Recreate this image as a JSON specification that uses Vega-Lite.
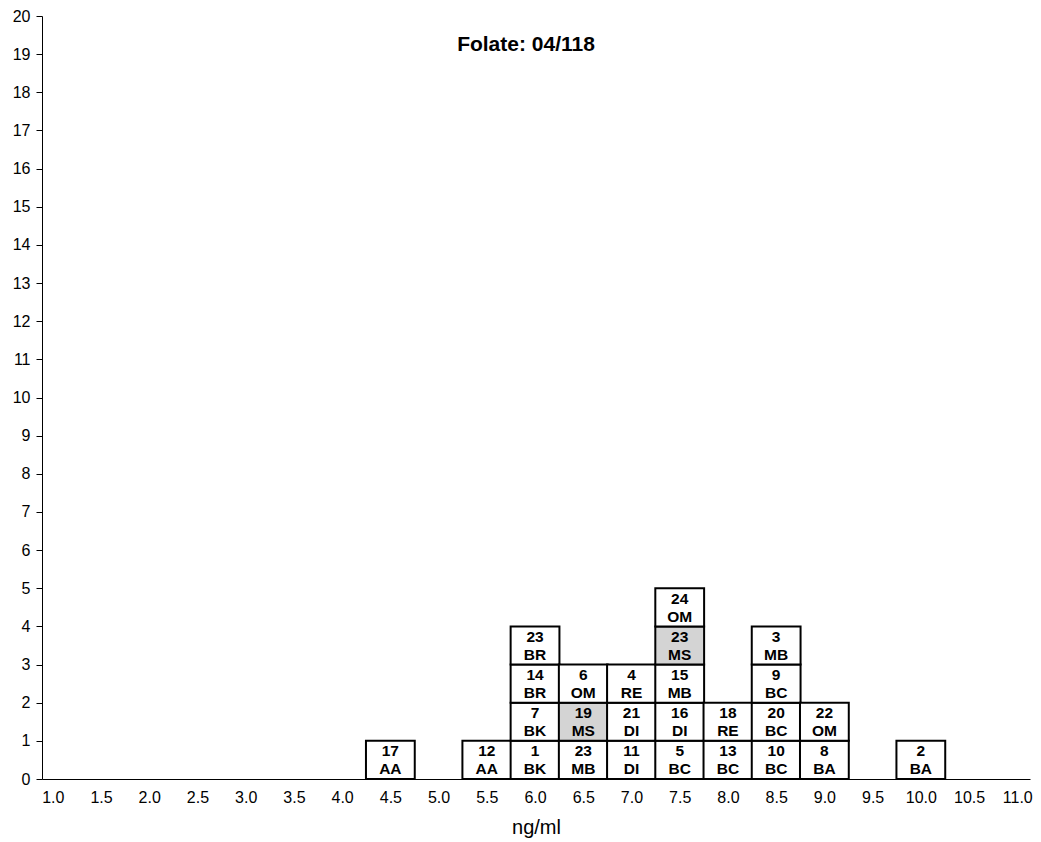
{
  "$schema": "https://vega.github.io/schema/vega-lite/v6.json",
  "width": 988,
  "height": 763,
  "autosize": "none",
  "padding": {"left": 42, "top": 16, "right": 11, "bottom": 63},
  "background": "white",
  "config": {"view": {"stroke": null}, "font": "Liberation Sans"},
  "title": {
    "text": "Folate: 04/118",
    "font": "Liberation Sans",
    "fontSize": 21,
    "fontWeight": "bold",
    "color": "black",
    "anchor": "middle",
    "offset": 0,
    "baseline": "alphabetic",
    "dy": 64,
    "dx": -10
  },
  "data": {
    "values": [
      {"value": 4.5, "level": 1, "num": "17", "code": "AA", "sample": "participant"},
      {"value": 5.5, "level": 1, "num": "12", "code": "AA", "sample": "participant"},
      {"value": 6.0, "level": 1, "num": "1", "code": "BK", "sample": "participant"},
      {"value": 6.0, "level": 2, "num": "7", "code": "BK", "sample": "participant"},
      {"value": 6.0, "level": 3, "num": "14", "code": "BR", "sample": "participant"},
      {"value": 6.0, "level": 4, "num": "23", "code": "BR", "sample": "participant"},
      {"value": 6.5, "level": 1, "num": "23", "code": "MB", "sample": "participant"},
      {"value": 6.5, "level": 2, "num": "19", "code": "MS", "sample": "target"},
      {"value": 6.5, "level": 3, "num": "6", "code": "OM", "sample": "participant"},
      {"value": 7.0, "level": 1, "num": "11", "code": "DI", "sample": "participant"},
      {"value": 7.0, "level": 2, "num": "21", "code": "DI", "sample": "participant"},
      {"value": 7.0, "level": 3, "num": "4", "code": "RE", "sample": "participant"},
      {"value": 7.5, "level": 1, "num": "5", "code": "BC", "sample": "participant"},
      {"value": 7.5, "level": 2, "num": "16", "code": "DI", "sample": "participant"},
      {"value": 7.5, "level": 3, "num": "15", "code": "MB", "sample": "participant"},
      {"value": 7.5, "level": 4, "num": "23", "code": "MS", "sample": "target"},
      {"value": 7.5, "level": 5, "num": "24", "code": "OM", "sample": "participant"},
      {"value": 8.0, "level": 1, "num": "13", "code": "BC", "sample": "participant"},
      {"value": 8.0, "level": 2, "num": "18", "code": "RE", "sample": "participant"},
      {"value": 8.5, "level": 1, "num": "10", "code": "BC", "sample": "participant"},
      {"value": 8.5, "level": 2, "num": "20", "code": "BC", "sample": "participant"},
      {"value": 8.5, "level": 3, "num": "9", "code": "BC", "sample": "participant"},
      {"value": 8.5, "level": 4, "num": "3", "code": "MB", "sample": "participant"},
      {"value": 9.0, "level": 1, "num": "8", "code": "BA", "sample": "participant"},
      {"value": 9.0, "level": 2, "num": "22", "code": "OM", "sample": "participant"},
      {"value": 10.0, "level": 1, "num": "2", "code": "BA", "sample": "participant"}
    ]
  },
  "encoding": {
    "x": {
      "field": "value",
      "type": "quantitative",
      "scale": {"domain": [0.94, 11.08], "nice": false, "zero": false},
      "axis": {
        "title": "ng/ml",
        "values": [1, 1.5, 2, 2.5, 3, 3.5, 4, 4.5, 5, 5.5, 6, 6.5, 7, 7.5, 8, 8.5, 9, 9.5, 10, 10.5, 11],
        "format": ".1f",
        "grid": false,
        "ticks": false,
        "tickSize": 0,
        "labelPadding": 10,
        "labelFontSize": 16,
        "labelColor": "black",
        "labelFont": "Liberation Sans",
        "domainColor": "black",
        "domainWidth": 1,
        "titleFontSize": 20,
        "titleFontWeight": "normal",
        "titleColor": "black",
        "titleFont": "Liberation Sans",
        "titlePadding": 12,
        "labelFlush": false,
        "labelOverlap": false
      }
    }
  },
  "layer": [
    {
      "mark": {"type": "bar", "size": 48.8, "stroke": "black", "strokeWidth": 2},
      "encoding": {
        "y": {
          "aggregate": "count",
          "type": "quantitative",
          "stack": "zero",
          "scale": {"domain": [0, 20], "nice": false},
          "axis": {
            "title": null,
            "values": [0, 1, 2, 3, 4, 5, 6, 7, 8, 9, 10, 11, 12, 13, 14, 15, 16, 17, 18, 19, 20],
            "grid": false,
            "tickSize": 6,
            "tickColor": "black",
            "labelPadding": 6,
            "labelFontSize": 16,
            "labelColor": "black",
            "labelFont": "Liberation Sans",
            "domainColor": "black",
            "domainWidth": 1,
            "labelFlush": false,
            "labelOverlap": false
          }
        },
        "detail": {"field": "level", "type": "quantitative"},
        "order": {"field": "level", "type": "quantitative"},
        "fill": {
          "field": "sample",
          "type": "nominal",
          "scale": {"domain": ["participant", "target"], "range": ["white", "#d4d4d4"]},
          "legend": null
        }
      }
    },
    {
      "mark": {"type": "text", "font": "Liberation Sans", "fontSize": 15.5, "fontWeight": "bold", "color": "black", "baseline": "middle", "align": "center", "dy": 10.5},
      "encoding": {
        "y": {
          "field": "level",
          "type": "quantitative",
          "axis": {
            "title": null,
            "values": [0, 1, 2, 3, 4, 5, 6, 7, 8, 9, 10, 11, 12, 13, 14, 15, 16, 17, 18, 19, 20],
            "grid": false,
            "tickSize": 6,
            "tickColor": "black",
            "labelPadding": 6,
            "labelFontSize": 16,
            "labelColor": "black",
            "labelFont": "Liberation Sans",
            "domainColor": "black",
            "domainWidth": 1,
            "labelFlush": false,
            "labelOverlap": false
          }
        },
        "text": {"field": "num"}
      }
    },
    {
      "mark": {"type": "text", "font": "Liberation Sans", "fontSize": 15.5, "fontWeight": "bold", "color": "black", "baseline": "middle", "align": "center", "dy": 28.5},
      "encoding": {
        "y": {
          "field": "level",
          "type": "quantitative",
          "axis": {
            "title": null,
            "values": [0, 1, 2, 3, 4, 5, 6, 7, 8, 9, 10, 11, 12, 13, 14, 15, 16, 17, 18, 19, 20],
            "grid": false,
            "tickSize": 6,
            "tickColor": "black",
            "labelPadding": 6,
            "labelFontSize": 16,
            "labelColor": "black",
            "labelFont": "Liberation Sans",
            "domainColor": "black",
            "domainWidth": 1,
            "labelFlush": false,
            "labelOverlap": false
          }
        },
        "text": {"field": "code"}
      }
    }
  ]
}
